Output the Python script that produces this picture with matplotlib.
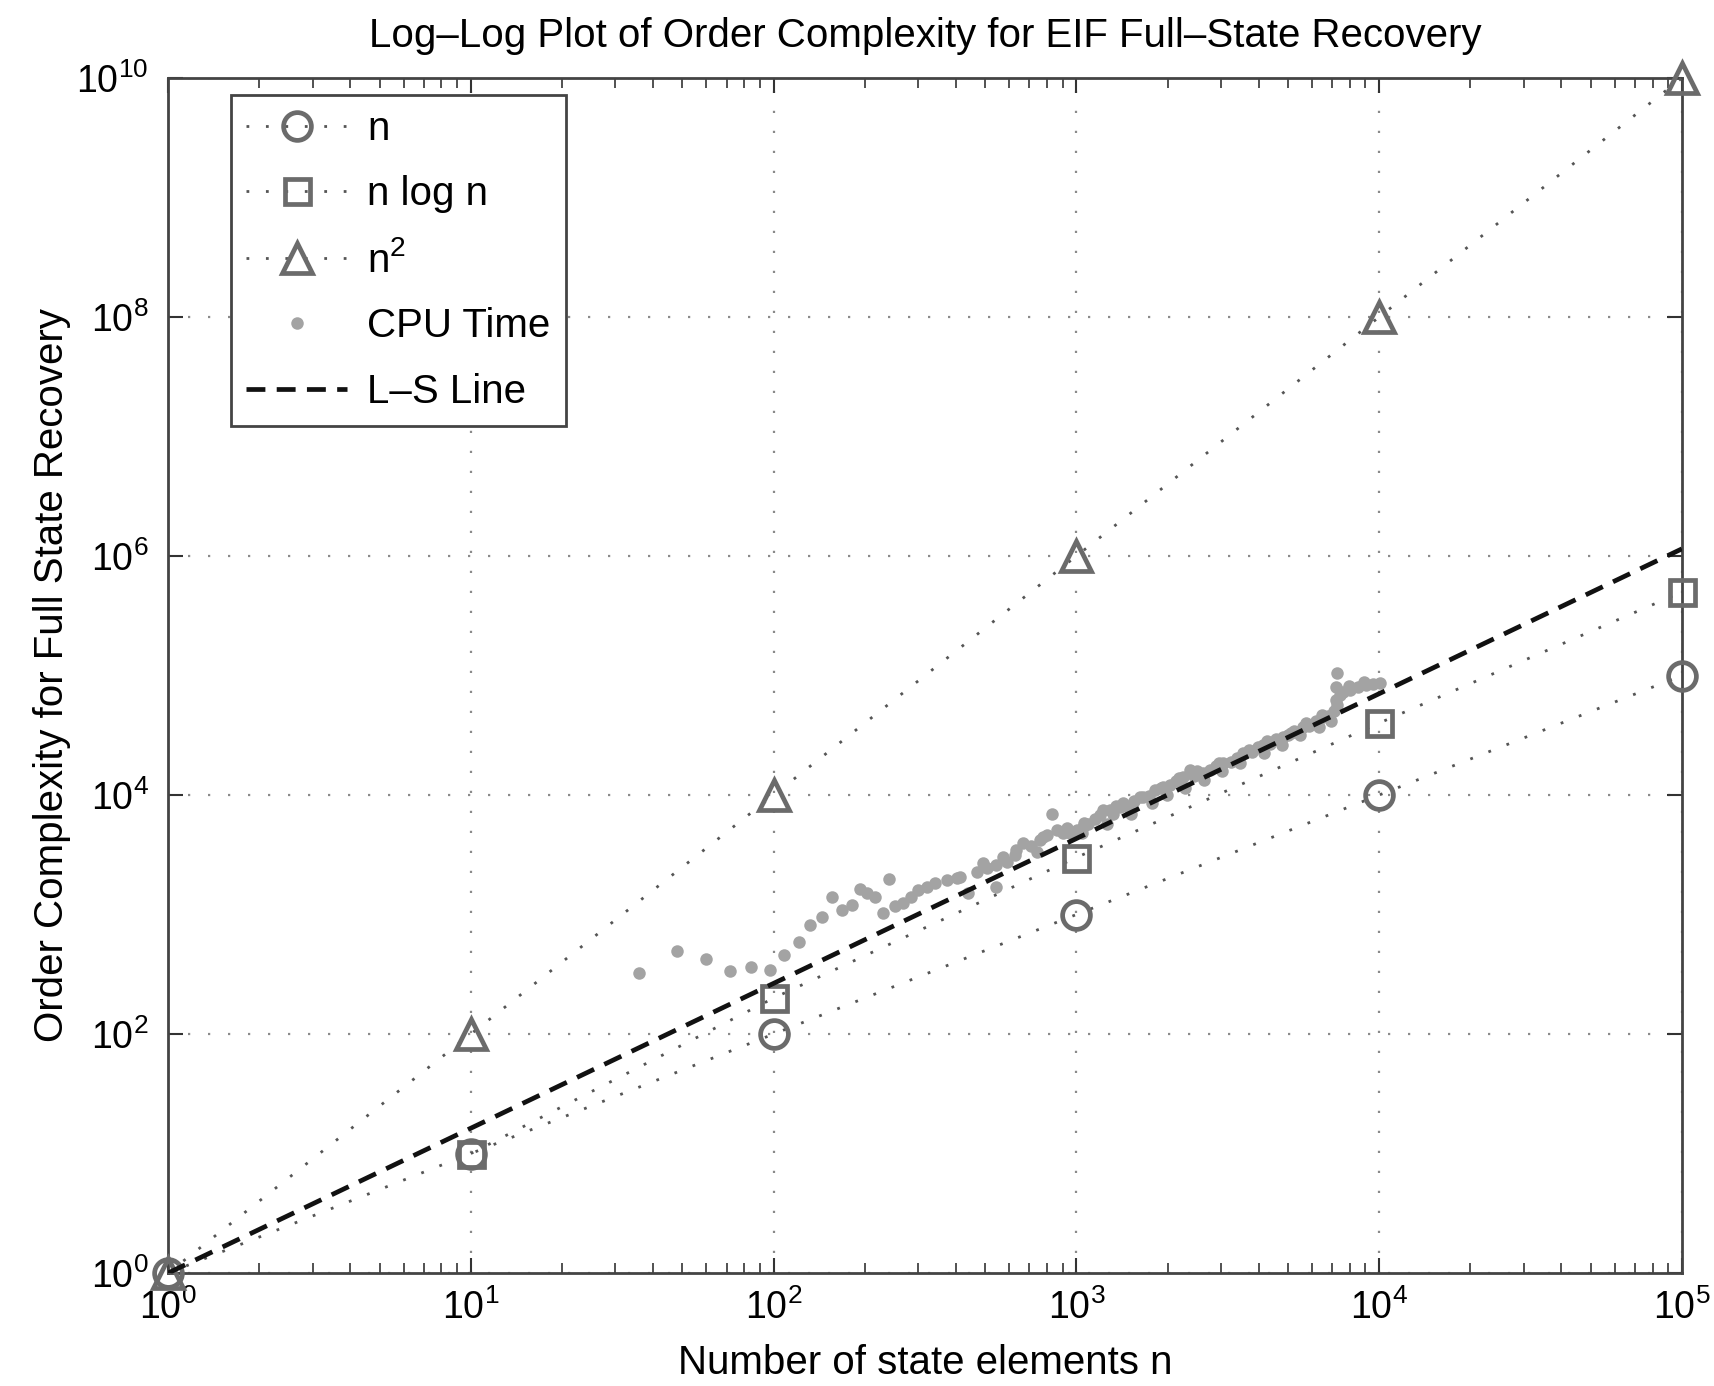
import numpy as np
import matplotlib
matplotlib.use("Agg")
import matplotlib.pyplot as plt
from matplotlib.ticker import LogLocator, NullFormatter, NullLocator, LogFormatterSciNotation

plt.rcParams['font.family'] = ['Liberation Sans', 'DejaVu Sans']
plt.rcParams['mathtext.fontset'] = 'custom'
plt.rcParams['mathtext.rm'] = 'Liberation Sans'
plt.rcParams['mathtext.it'] = 'Liberation Sans'

# reference curves, one point per decade
n_vals = [1, 10, 100, 1000, 10000, 100000]
lin_vals = [1, 10, 100, 1000, 10000, 100000]
nlogn_vals = [np.nan, 10, 200, 3000, 40000, 500000]
nsq_vals = [1, 100, 1e4, 1e6, 1e8, 1e10]

cpu_n = [36, 48, 60, 72, 84, 97, 108, 121, 132, 144, 156, 168, 181, 193, 203,
         216, 229, 241, 252, 268, 285, 301, 320, 341, 373, 403, 413, 440, 469,
         493, 505, 544, 544, 574, 589, 627, 631, 668, 708, 740, 759, 778, 798,
         830, 861, 906, 929, 955, 1002, 1054, 1060, 1096, 1148, 1197, 1227,
         1291, 1318, 1393, 1429, 1479, 1549, 1663, 1738, 1820, 1936, 2042,
         2138, 2254, 2371, 2455, 2624, 2754, 2884, 3055, 3236, 3388, 3556,
         3802, 3981, 4140, 4365, 4571, 4819, 5012, 5248, 5610, 5888, 6166,
         6531, 6761, 7079, 7228, 7228, 7261, 7586, 7998, 8511, 9078, 9550,
         10093,
         1047, 1259, 1514, 1778, 1995, 2291, 2630, 3020, 3467, 4169, 4786,
         5495, 6310, 6918,
         1349, 1622, 1905, 2188, 2512, 2951, 3715, 4266, 5129, 5754, 6457,
         7943, 8913, 7413, 7244]
cpu_t = [322, 498, 425, 339, 361, 344, 458, 585, 817, 959, 1393, 1091, 1202,
         1626, 1507, 1409, 1023, 1982, 1178, 1242, 1413, 1603, 1698, 1824,
         1945, 2009, 2070, 1503, 2280, 2679, 2438, 2594, 1710, 3048, 2767,
         3148, 3467, 3945, 3715, 3357, 4169, 4477, 4624, 6887, 5093, 4786,
         5260, 4786, 5093, 5433, 5794, 5754, 6310, 6808, 7482, 7482, 6918,
         7980, 8511, 7943, 8913, 9683, 9772, 10965, 11722, 12023, 13183,
         14223, 16180, 14454, 15205, 16218, 17378, 18408, 19055, 20417, 22336,
         22909, 25119, 26182, 26915, 29512, 30761, 31623, 34674, 37325, 38019,
         41687, 45186, 45709, 50119, 62373, 80538, 105439, 72444, 75683,
         79433, 83368, 85114, 86099,
         4786, 5754, 6918, 8511, 10000, 11482, 13490, 15849, 18621, 22387,
         26303, 31623, 37154, 41687,
         8128, 9550, 11482, 13804, 15849, 18621, 23988, 28184, 33113, 39811,
         46774, 81283, 89125, 69183, 56234]

# least-squares line: log10(t) = slope*log10(n) + intercept
ls_slope = 1.212
ls_intercept = 0.0
ls_n = [1, 100000]

mk_col = '#6b6b6b'
ln_col = '#555555'
cpu_col = '#a3a3a3'

fig = plt.figure(figsize=(17.15, 13.86), dpi=100)
ax = fig.add_axes([0.098, 0.0815, 0.8827, 0.8622])

dot = (1, 6)
ax.plot(n_vals, lin_vals, color=ln_col, lw=2, dashes=dot, marker='o', ms=20,
        mfc='none', mec=mk_col, mew=3.4, label='n', clip_on=False, zorder=3)
ax.plot(n_vals, nlogn_vals, color=ln_col, lw=2, dashes=dot, marker='s', ms=18,
        mfc='none', mec=mk_col, mew=3.4, label='n log n', clip_on=False, zorder=3)
ax.plot(n_vals, nsq_vals, color=ln_col, lw=2, dashes=dot, marker='^', ms=22,
        mfc='none', mec=mk_col, mew=3.4, label='n$^2$', clip_on=False, zorder=3)
ax.plot(cpu_n, cpu_t, 'o', ls='none', color=cpu_col, ms=9, mec='none',
        label='CPU Time', zorder=2)
ls_t = 10 ** np.polyval([ls_slope, ls_intercept], np.log10(ls_n))
ax.plot(ls_n, ls_t, '--', color='#111111', lw=3.4, dashes=(4, 2.4),
        label='L–S Line', zorder=4)

ax.set_xscale('log')
ax.set_yscale('log')
ax.set_xlim(1, 1e5)
ax.set_ylim(1, 1e10)

ax.xaxis.set_major_locator(LogLocator(base=10, numticks=10))
ax.xaxis.set_minor_locator(LogLocator(base=10, subs=np.arange(2, 10), numticks=20))
ax.xaxis.set_minor_formatter(NullFormatter())
ax.yaxis.set_major_locator(LogLocator(base=100, numticks=10))
ax.yaxis.set_minor_locator(NullLocator())
ax.yaxis.set_major_formatter(LogFormatterSciNotation(base=10))

ax.tick_params(which='both', direction='in', top=True, right=True,
               colors='#333333', labelcolor='black')
ax.tick_params(which='major', length=11, width=1.5, labelsize=27)
ax.tick_params(axis='x', which='major', pad=12)
ax.tick_params(axis='y', which='major', pad=14)
ax.tick_params(which='minor', length=7, width=1.2)
for sp in ax.spines.values():
    sp.set_color('#444444')
    sp.set_linewidth(2)

ax.grid(True, which='major', ls=(0, (1, 8)), color='#8a8a8a', lw=1.6)

ax.set_title('Log–Log Plot of Order Complexity for EIF Full–State Recovery',
             fontsize=29, pad=22)
ax.set_xlabel('Number of state elements n', fontsize=29, labelpad=12)
ax.set_ylabel('Order Complexity for Full State Recovery', fontsize=29, labelpad=4)

leg = ax.legend(loc='upper left', bbox_to_anchor=(0.0416, 0.986), numpoints=1,
                fontsize=29, fancybox=False, framealpha=1, edgecolor='#444444',
                handlelength=2.5, handletextpad=0.5, borderpad=0.38,
                labelspacing=0.68, borderaxespad=0)
leg.get_frame().set_linewidth(2)

fig.savefig('out.png', dpi=100)
